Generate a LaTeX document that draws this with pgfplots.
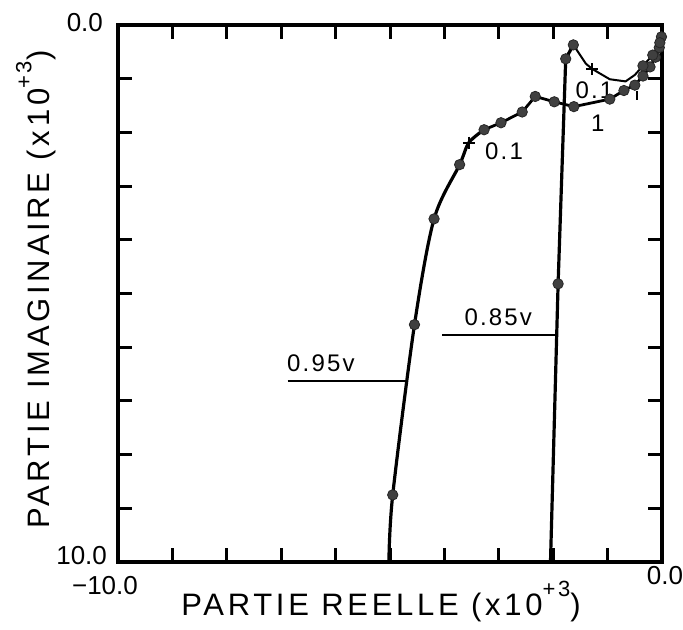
\documentclass[border=0pt]{standalone}
\usepackage{fontspec}
\setmainfont{Liberation Sans}
\newfontfamily\lblfont[LetterSpace=12]{Liberation Sans}
\newfontfamily\smfont[LetterSpace=9]{Liberation Sans}
\usepackage{pgfplots}
\pgfplotsset{compat=1.18}

% courbe 0.95 V
\pgfplotstableread{
x y
-4.95 8.75
-4.55 5.58
-4.19 3.61
-3.72 2.60
-3.27 1.95
-2.96 1.82
-2.57 1.62
-2.33 1.33
-1.98 1.43
-1.62 1.52
-0.96 1.38
-0.70 1.22
-0.50 1.12
-0.35 0.95
-0.22 0.78
-0.12 0.60
-0.05 0.42
-0.01 0.22
}\ptsA
% courbe 0.85 V
\pgfplotstableread{
x y
-1.91 4.82
-1.77 0.63
-1.63 0.37
-0.35 0.76
-0.17 0.56
-0.04 0.33
}\ptsB

\begin{document}
\begin{tikzpicture}
\useasboundingbox (-59pt,-33.5pt) rectangle (282.5pt,281pt);
\begin{axis}[
  at={(0,0)}, anchor=south west,
  scale only axis, width=272pt, height=268.5pt,
  xmin=-10, xmax=0, ymin=0, ymax=10,
  y dir=reverse,
  xtick={-10,...,0}, ytick={0,...,10},
  xticklabels={}, yticklabels={},
  tick align=inside, major tick length=7pt,
  axis line style={line width=1.7pt},
  every tick/.style={black, line width=1.5pt},
  clip=false,
]
% 0.95 V
\addplot[black, line width=1.6pt, smooth, tension=0.5] coordinates {
  (-5.02,10) (-4.95,8.75) (-4.55,5.58) (-4.19,3.61) (-3.72,2.60) (-3.55,2.19) (-3.27,1.95)
};
\addplot[black, line width=1.4pt] coordinates {
  (-3.27,1.95) (-2.96,1.82) (-2.57,1.62) (-2.33,1.33) (-1.98,1.43) (-1.62,1.52)
  (-0.96,1.38) (-0.70,1.22) (-0.50,1.12) (-0.35,0.95) (-0.22,0.78) (-0.12,0.60)
  (-0.05,0.42) (-0.01,0.22) (0,0.05)
};
% 0.85 V
\addplot[black, line width=1.6pt] coordinates {
  (-2.05,10) (-1.91,4.82) (-1.77,0.63) (-1.63,0.37)
};
\addplot[black, line width=1pt] coordinates {
  (-1.63,0.37) (-1.40,0.72) (-1.28,0.82) (-0.96,1.01) (-0.67,1.05) (-0.50,0.93)
  (-0.35,0.76) (-0.17,0.56) (-0.04,0.33) (0,0.08)
};
% points
\addplot[only marks, mark=*, mark size=2.6pt, mark options={fill=black!75, draw=black!85}] table {\ptsA};
\addplot[only marks, mark=*, mark size=2.6pt, mark options={fill=black!75, draw=black!85}] table {\ptsB};
\addplot[only marks, mark=+, mark size=3pt, mark options={line width=1pt}] coordinates {(-3.55,2.19) (-1.28,0.82)};
\addplot[only marks, mark=|, mark size=2.4pt, mark options={line width=1.2pt}] coordinates {(-0.46,1.31)};
% traits des etiquettes
\addplot[black, line width=1pt] coordinates {(-6.88,6.63) (-4.70,6.63)};
\addplot[black, line width=1pt] coordinates {(-4.04,5.77) (-1.93,5.77)};

\node[anchor=west, font=\smfont\fontsize{12}{14}\selectfont] at (axis cs:-7.02,6.30) {0.95v};
\node[anchor=west, font=\smfont\fontsize{12}{14}\selectfont] at (axis cs:-3.76,5.44) {0.85v};
\node[anchor=west, font=\smfont\fontsize{12}{14}\selectfont] at (axis cs:-3.38,2.35) {0.1};
\node[anchor=west, font=\smfont\fontsize{12}{14}\selectfont] at (axis cs:-1.72,1.22) {0.1};
\node[font=\smfont\fontsize{12}{14}\selectfont] at (axis cs:-1.18,1.83) {1};

% graduations
\node[xshift=-4pt, yshift=1pt, anchor=east, font=\fontsize{13}{15}\selectfont] at (axis cs:-10,0) {0.0};
\node[xshift=-2pt, yshift=3pt, anchor=east, font=\fontsize{13}{15}\selectfont] at (axis cs:-10,10) {10.0};
\node[xshift=-6.5pt, yshift=-12pt, font=\fontsize{13}{15}\selectfont] at (axis cs:-10,10) {−10.0};
\node[xshift=1.5pt, yshift=-7pt, font=\fontsize{13}{15}\selectfont] at (axis cs:0,10) {0.0};

% titres des axes
\node[xshift=-4.5pt, yshift=-26.5pt, anchor=base, font=\lblfont\fontsize{15.5}{17}\selectfont] at (axis cs:-5,10)
  {PARTIE REELLE (x10\raisebox{0.6em}{\fontsize{11}{12}\selectfont +3})};
\node[xshift=-34pt, yshift=2pt, rotate=90, anchor=base, font=\lblfont\fontsize{15.5}{17}\selectfont] at (axis cs:-10,5)
  {PARTIE IMAGINAIRE (x10\raisebox{0.6em}{\fontsize{11}{12}\selectfont +3})};
\end{axis}
\end{tikzpicture}
\end{document}
